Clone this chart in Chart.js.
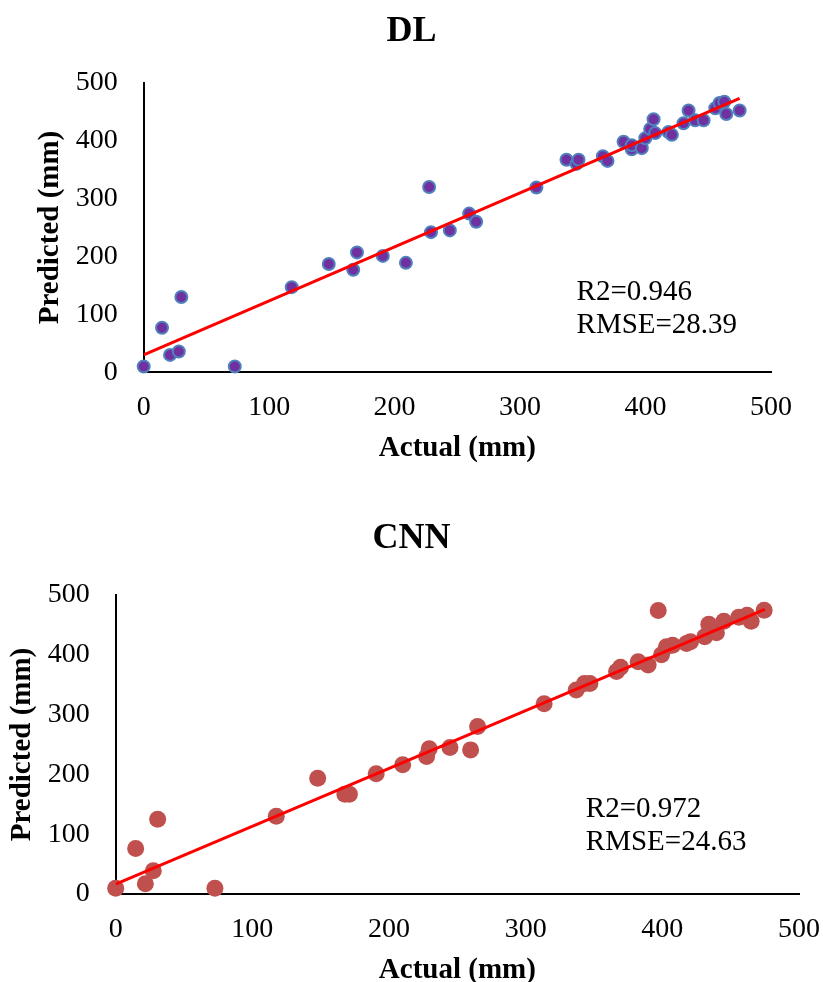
<!DOCTYPE html>
<html>
<head>
<meta charset="utf-8">
<title>DL and CNN - Actual vs Predicted</title>
<script src="https://cdn.jsdelivr.net/npm/chart.js@4.4.0/dist/chart.umd.min.js"></script>
<style>
  html, body { margin: 0; padding: 0; background: #fff; overflow: hidden; }
  #top-wrap { position: absolute; left: 0; top: 0; }
  #bottom-wrap { position: absolute; left: 0; top: 500px; }
</style>
</head>
<body>
<div id="top-wrap"><canvas id="dl-canvas" width="823" height="500"></canvas></div>
<div id="bottom-wrap"><canvas id="cnn-canvas" width="823" height="520"></canvas></div>
<script>
'use strict';
// data
var actualDL = [0, 14.6, 21, 28, 30, 72.6, 118, 147.5, 167, 170, 190.6, 209, 227.5, 229, 244, 259.4, 265,
  313, 337, 345, 346.6, 366, 369.7, 382.5, 389, 389, 397, 399.8, 403.7, 406.4, 407.7, 418.3, 421,
  430.3, 434.3, 439.6, 446.3, 455.6, 459, 462.8, 464.4, 475];
var predictedDL = [10, 77, 30, 36, 130, 10, 147, 187, 177, 207, 201, 189, 320, 242, 245, 274, 260,
  319, 367, 360, 367, 373, 365, 398, 385, 392, 387, 404, 420, 437, 413, 415, 410,
  430, 452, 435, 435, 456, 465, 467, 446, 452];

var actualCNN = [0, 14.6, 21.7, 27.5, 30.7, 72.6, 117.5, 147.8, 167.7, 171, 190.6, 210, 227.5, 229.4, 244.6,
  259.7, 264.8, 313.5, 337, 343, 347, 366.5, 369.4, 382.3, 389.6, 397, 399.4, 403, 407.5, 417.7, 420.6,
  431, 434, 439.6, 445, 456, 462, 465, 474.5];
var predictedCNN = [9.5, 76, 17, 39, 125, 9.5, 130, 193.5, 167, 167, 201, 216, 230, 243, 245,
  241, 280, 318, 341, 352, 352, 372, 379, 388.5, 383, 474, 400, 413.5, 416, 419, 422,
  430, 451, 437, 456, 463, 466, 456, 474.5];

// fitted lines (end points)
var trendDLx = [0, 475];
var trendDLy = [30, 473];
var trendCNNx = [0, 475];
var trendCNNy = [16.7, 476];

var dlStats = ['R2=0.946', 'RMSE=28.39'];
var cnnStats = ['R2=0.972', 'RMSE=24.63'];

var axisMin = 0;
var axisMax = 500;
var tickStep = 100;

var serif = '"Liberation Serif", "Times New Roman", Times, serif';

function toPoints(xs, ys) {
  var pts = [];
  for (var i = 0; i < xs.length; i++) {
    pts.push({ x: xs[i], y: ys[i] });
  }
  return pts;
}

// writes R2 / RMSE next to the plot
var statsPlugin = {
  id: 'stats',
  afterDatasetsDraw: function (chart, args, opts) {
    var ctx = chart.ctx;
    var x = chart.scales.x.getPixelForValue(opts.x);
    var y = chart.scales.y.getPixelForValue(opts.y);
    ctx.save();
    ctx.font = '29px ' + serif;
    ctx.fillStyle = '#000';
    ctx.textBaseline = 'alphabetic';
    for (var i = 0; i < opts.lines.length; i++) {
      ctx.fillText(opts.lines[i], x, y + i * 33);
    }
    ctx.restore();
  }
};

function makeChart(canvasId, s) {
  return new Chart(document.getElementById(canvasId), {
    type: 'scatter',
    data: {
      datasets: [{
        type: 'line',
        data: toPoints(s.trendX, s.trendY),
        borderColor: '#ff0000',
        borderWidth: 3,
        pointRadius: 0,
        fill: false,
        order: 0
      }, {
        data: toPoints(s.xs, s.ys),
        backgroundColor: s.fill,
        borderColor: s.border,
        borderWidth: s.borderWidth,
        pointRadius: s.radius,
        clip: false,
        order: 1
      }]
    },
    options: {
      responsive: false,
      animation: false,
      devicePixelRatio: 1,
      events: [],
      layout: { padding: 0 },
      plugins: {
        legend: { display: false },
        tooltip: { enabled: false },
        title: {
          display: true,
          text: s.title,
          color: '#000',
          font: { family: serif, size: 36, weight: 'bold' },
          padding: s.titlePad
        },
        stats: { x: s.statsX, y: s.statsY, lines: s.stats }
      },
      scales: {
        x: {
          type: 'linear',
          min: axisMin,
          max: axisMax,
          grid: { display: false, drawTicks: false },
          border: { display: true, color: '#000', width: 2 },
          ticks: { stepSize: tickStep, color: '#000', padding: 19, font: { family: serif, size: 28 } },
          title: {
            display: true,
            text: 'Actual (mm)',
            color: '#000',
            font: { family: serif, size: 29, weight: 'bold' },
            padding: { top: 0, bottom: s.xTitlePad }
          },
          afterFit: function (scale) {
            scale.height = s.xAxisHeight;
            scale.paddingLeft = 0;
            scale.paddingRight = s.padRight;
          }
        },
        y: {
          type: 'linear',
          min: axisMin,
          max: axisMax,
          grid: { display: false, drawTicks: false },
          border: { display: true, color: '#000', width: 2 },
          ticks: { stepSize: tickStep, color: '#000', padding: s.yTickPad, font: { family: serif, size: 28 } },
          title: {
            display: true,
            text: 'Predicted (mm)',
            color: '#000',
            font: { family: serif, size: 29, weight: 'bold' },
            padding: { top: s.yTitlePad, bottom: 0 }
          },
          afterFit: function (scale) { scale.width = s.yAxisWidth; }
        }
      }
    },
    plugins: [statsPlugin]
  });
}

makeChart('dl-canvas', {
  title: 'DL',
  xs: actualDL, ys: predictedDL,
  trendX: trendDLx, trendY: trendDLy,
  fill: '#7030a0', border: '#4f81bd', borderWidth: 2, radius: 6,
  stats: dlStats, statsX: 345, statsY: 125,
  padRight: 52, titlePad: { top: 10, bottom: 29.5 },
  xAxisHeight: 127.7, xTitlePad: 34,
  yAxisWidth: 143.7, yTickPad: 26, yTitlePad: 33
});

makeChart('cnn-canvas', {
  title: 'CNN',
  xs: actualCNN, ys: predictedCNN,
  trendX: trendCNNx, trendY: trendCNNy,
  fill: '#c0504d', border: '#c0504d', borderWidth: 0, radius: 8.5,
  stats: cnnStats, statsX: 344, statsY: 129,
  padRight: 24, titlePad: { top: 17.4, bottom: 34.4 },
  xAxisHeight: 126, xTitlePad: 32,
  yAxisWidth: 115.7, yTickPad: 26, yTitlePad: 5
});
</script>
</body>
</html>
